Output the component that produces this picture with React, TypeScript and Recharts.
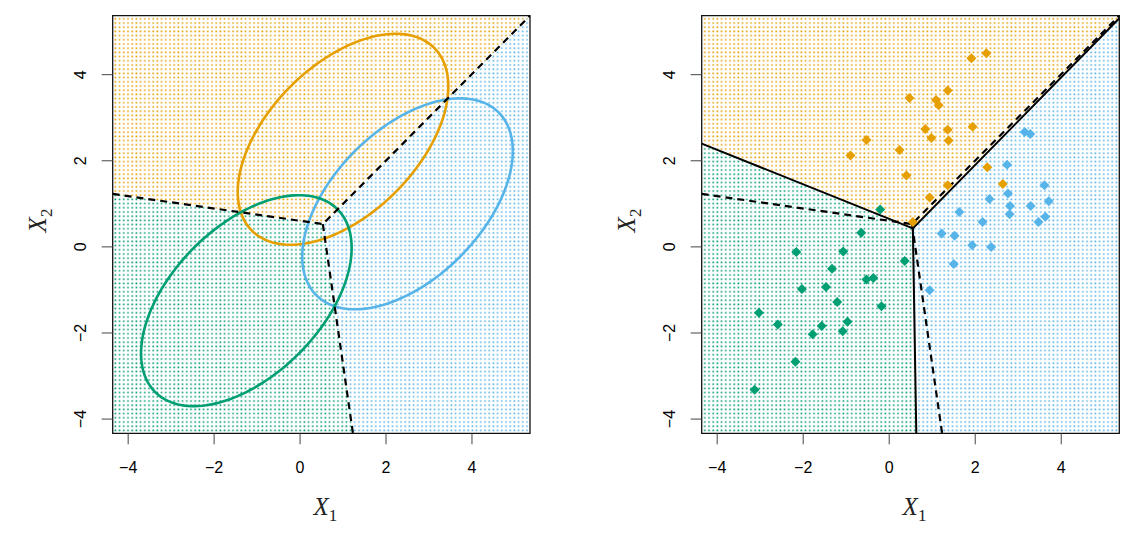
import React from "react";
import {
  Area,
  ComposedChart,
  Label,
  Line,
  ReferenceArea,
  Scatter,
  XAxis,
  YAxis,
} from "recharts";

const ORANGE = "#E69F00";
const BLUE = "#56B4E9";
const GREEN = "#009E73";

const xDomain = [-4.36, 5.35];
const yDomain = [-4.33, 5.37];
const axisTicks = [-4, -2, 0, 2, 4];

// Bayes boundary (dashed, both panels): where the three lines meet and where they leave the box
const bayesJoin = [0.53, 0.53];
const bayesLeft = [-4.36, 1.23];
const bayesTop = [5.35, 5.37];
const bayesBottom = [1.23, -4.33];

// LDA boundary (solid, right panel)
const ldaJoin = [0.55, 0.43];
const ldaLeft = [-4.36, 2.4];
const ldaTop = [5.35, 5.31];
const ldaBottom = [0.63, -4.33];

// 95% contours, shared covariance [var1, cov, var2]
const orangeMean = [1.0, 2.5];
const blueMean = [2.5, 1.0];
const greenMean = [-1.25, -1.25];
const sharedCov = [1, 0.5, 1];
const contourRadius = 2.45;

const orangePoints = [
  [1.91, 4.38], [2.26, 4.5], [1.36, 3.63], [0.47, 3.46], [1.09, 3.41],
  [1.15, 3.29], [0.84, 2.74], [1.36, 2.72], [1.94, 2.79], [-0.53, 2.48],
  [0.98, 2.53], [1.38, 2.47], [0.24, 2.25], [-0.9, 2.12], [0.4, 1.66],
  [2.28, 1.85], [1.36, 1.43], [2.64, 1.46], [0.94, 1.15], [0.55, 0.58],
];
const bluePoints = [
  [3.15, 2.67], [3.28, 2.62], [2.74, 1.91], [3.61, 1.43], [2.76, 1.24],
  [2.33, 1.11], [3.71, 1.06], [2.81, 0.95], [3.29, 0.95], [1.63, 0.81],
  [2.8, 0.76], [3.63, 0.7], [3.47, 0.58], [2.17, 0.58], [1.22, 0.31],
  [1.52, 0.26], [1.93, 0.04], [2.37, 0.0], [1.5, -0.4], [0.94, -1.01],
];
const greenPoints = [
  [-0.21, 0.87], [-0.65, 0.33], [-2.16, -0.12], [-1.07, -0.11], [0.36, -0.33],
  [-1.33, -0.51], [-0.53, -0.76], [-0.37, -0.72], [-2.03, -0.98], [-1.47, -0.93],
  [-1.21, -1.28], [-0.18, -1.38], [-3.03, -1.53], [-2.59, -1.8], [-0.97, -1.74],
  [-1.57, -1.84], [-1.78, -2.03], [-1.08, -1.96], [-2.18, -2.67], [-3.13, -3.32],
];

const toXY = (pts: number[][]) => pts.map(([x, y]) => ({ x, y }));
const fmt = (v: number) => (v < 0 ? "\u2212" + Math.abs(v) : String(v));

function regions(left: number[], join: number[], top: number[], bottom: number[], p: string) {
  const lo = yDomain[0];
  const hi = yDomain[1];
  return {
    blue: [
      { x: xDomain[0], r: [lo, hi] },
      { x: xDomain[1], r: [lo, hi] },
    ],
    orange: [
      { x: left[0], r: [left[1], hi] },
      { x: join[0], r: [join[1], hi] },
      { x: top[0], r: [top[1], hi] },
    ],
    green: [
      { x: left[0], r: [lo, left[1]] },
      { x: join[0], r: [lo, join[1]] },
      { x: bottom[0], r: [lo, bottom[1]] },
    ],
    p,
  };
}

function contour(mean: number[]) {
  const [a, b, c] = sharedCov;
  const l11 = Math.sqrt(a);
  const l21 = b / l11;
  const l22 = Math.sqrt(c - l21 * l21);
  const pts = [];
  for (let i = 0; i <= 160; i++) {
    const t = (2 * Math.PI * i) / 160;
    const u = Math.cos(t);
    const v = Math.sin(t);
    pts.push({
      x: mean[0] + contourRadius * l11 * u,
      y: mean[1] + contourRadius * (l21 * u + l22 * v),
    });
  }
  return pts;
}

const Diamond = (props: any) => {
  const { cx, cy, fill } = props;
  const s = 5;
  return (
    <polygon
      points={`${cx},${cy - s} ${cx + s},${cy} ${cx},${cy + s} ${cx - s},${cy}`}
      fill={fill}
    />
  );
};

const YTick = (props: any) => {
  const { x, y, payload } = props;
  return (
    <text
      x={x}
      y={y}
      transform={`rotate(-90 ${x} ${y})`}
      textAnchor="middle"
      fontSize={16}
      fontFamily="Liberation Sans, Arial, sans-serif"
      fill="#000"
    >
      {fmt(payload.value)}
    </text>
  );
};

const XTitle = (props: any) => {
  const vb = props.viewBox;
  return (
    <text
      x={vb.x + vb.width / 2 + 4}
      y={vb.y + 82}
      textAnchor="middle"
      fontFamily="Liberation Serif, serif"
      fill="#222"
    >
      <tspan fontSize={25} fontStyle="italic">X</tspan>
      <tspan fontSize={17} dy={6}>1</tspan>
    </text>
  );
};

const YTitle = (props: any) => {
  const vb = props.viewBox;
  const bx = vb.x + vb.width - 67;
  const cy = vb.y + vb.height / 2 - 4;
  return (
    <text
      x={bx}
      y={cy}
      transform={`rotate(-90 ${bx} ${cy})`}
      textAnchor="middle"
      fontFamily="Liberation Serif, serif"
      fill="#222"
    >
      <tspan fontSize={25} fontStyle="italic">X</tspan>
      <tspan fontSize={17} dy={6}>2</tspan>
    </text>
  );
};

function Dots({ id, color }: { id: string; color: string }) {
  return (
    <pattern id={id} width={4.2} height={4.2} patternUnits="userSpaceOnUse">
      <rect width={4.2} height={4.2} fill="#fff" />
      <rect x={1.2} y={1.2} width={1.6} height={1.6} fill={color} />
    </pattern>
  );
}

function Panel({
  left,
  width,
  margin,
  reg,
  children,
}: {
  left: number;
  width: number;
  margin: any;
  reg: any;
  children?: React.ReactNode;
}) {
  return (
    <div style={{ position: "absolute", left, top: 0 }}>
      <ComposedChart width={width} height={539} margin={margin}>
        <XAxis
          dataKey="x"
          type="number"
          domain={xDomain}
          ticks={axisTicks}
          allowDataOverflow
          axisLine={false}
          tickLine={{ stroke: "#444" }}
          tickSize={11}
          tickMargin={17}
          height={60}
          tickFormatter={fmt}
          tick={{ fontSize: 16, fill: "#000", fontFamily: "Liberation Sans, Arial, sans-serif" }}
        >
          <Label content={<XTitle />} />
        </XAxis>
        <YAxis
          dataKey="y"
          type="number"
          domain={yDomain}
          ticks={axisTicks}
          allowDataOverflow
          axisLine={false}
          tickLine={{ stroke: "#444" }}
          tickSize={11}
          tickMargin={15.7}
          width={60}
          tick={<YTick />}
        >
          <Label content={<YTitle />} />
        </YAxis>
        <Area data={reg.blue} dataKey="r" type="linear" stroke="none" fill={`url(#${reg.p}b)`} fillOpacity={1} isAnimationActive={false} />
        <Area data={reg.orange} dataKey="r" type="linear" stroke="none" fill={`url(#${reg.p}o)`} fillOpacity={1} isAnimationActive={false} />
        <Area data={reg.green} dataKey="r" type="linear" stroke="none" fill={`url(#${reg.p}g)`} fillOpacity={1} isAnimationActive={false} />
        {children}
        <ReferenceArea
          x1={xDomain[0]}
          x2={xDomain[1]}
          y1={yDomain[0]}
          y2={yDomain[1]}
          fill="none"
          stroke="#111"
          strokeWidth={1.3}
          ifOverflow="visible"
        />
      </ComposedChart>
    </div>
  );
}

const bayesUpper = toXY([bayesLeft, bayesJoin, bayesTop]);
const bayesLower = toXY([bayesJoin, bayesBottom]);
const ldaUpper = toXY([ldaLeft, ldaJoin, ldaTop]);
const ldaLower = toXY([ldaJoin, ldaBottom]);

export default function App() {
  const leftReg = regions(bayesLeft, bayesJoin, bayesTop, bayesBottom, "L");
  const rightReg = regions(ldaLeft, ldaJoin, ldaTop, ldaBottom, "R");
  const dash = { stroke: "#000", strokeWidth: 2.2, strokeDasharray: "7 5", dot: false, isAnimationActive: false };

  return (
    <div style={{ position: "absolute", left: 0, top: 0, width: 1138, height: 539, background: "#fff" }}>
      <svg width={0} height={0} style={{ position: "absolute" }}>
        <defs>
          <Dots id="Lb" color={BLUE} />
          <Dots id="Lo" color={ORANGE} />
          <Dots id="Lg" color={GREEN} />
          <Dots id="Rb" color={BLUE} />
          <Dots id="Ro" color={ORANGE} />
          <Dots id="Rg" color={GREEN} />
        </defs>
      </svg>
      <Panel left={0} width={560} margin={{ top: 15.7, right: 30, bottom: 45.7, left: 52.7 }} reg={leftReg}>
        <Line data={contour(orangeMean)} dataKey="y" type="linear" stroke={ORANGE} strokeWidth={2.6} dot={false} isAnimationActive={false} />
        <Line data={contour(blueMean)} dataKey="y" type="linear" stroke={BLUE} strokeWidth={2.6} dot={false} isAnimationActive={false} />
        <Line data={contour(greenMean)} dataKey="y" type="linear" stroke={GREEN} strokeWidth={2.6} dot={false} isAnimationActive={false} />
        <Line data={bayesUpper} dataKey="y" type="linear" {...dash} />
        <Line data={bayesLower} dataKey="y" type="linear" {...dash} />
      </Panel>
      <Panel left={560} width={578} margin={{ top: 15.7, right: 18.7, bottom: 45.7, left: 81.7 }} reg={rightReg}>
        <Scatter data={toXY(orangePoints)} fill={ORANGE} shape={<Diamond />} isAnimationActive={false} />
        <Scatter data={toXY(bluePoints)} fill={BLUE} shape={<Diamond />} isAnimationActive={false} />
        <Scatter data={toXY(greenPoints)} fill={GREEN} shape={<Diamond />} isAnimationActive={false} />
        <Line data={bayesUpper} dataKey="y" type="linear" {...dash} />
        <Line data={bayesLower} dataKey="y" type="linear" {...dash} />
        <Line data={ldaUpper} dataKey="y" type="linear" stroke="#000" strokeWidth={2} dot={false} isAnimationActive={false} />
        <Line data={ldaLower} dataKey="y" type="linear" stroke="#000" strokeWidth={2} dot={false} isAnimationActive={false} />
      </Panel>
    </div>
  );
}
